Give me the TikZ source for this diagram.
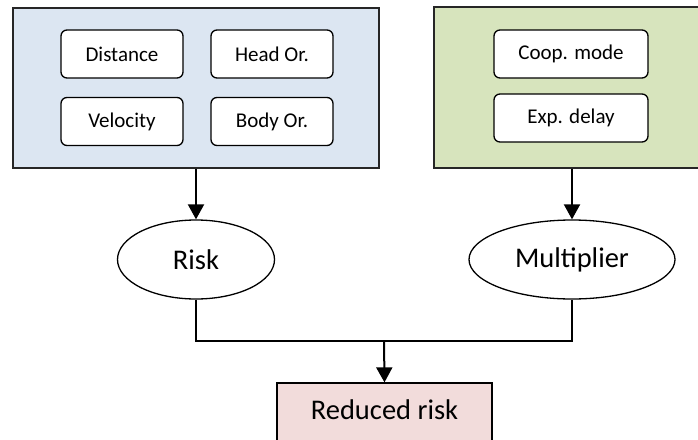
\documentclass[tikz,border=0pt]{standalone}
\usepackage{fontspec}
\setmainfont{Carlito}
\usetikzlibrary{shapes.geometric,arrows.meta}
\definecolor{bluefill}{RGB}{220,230,242}
\definecolor{greenfill}{RGB}{215,228,189}
\definecolor{redfill}{RGB}{242,220,219}
\tikzset{
  groupbox/.style={draw=black!85, line width=1.5pt, inner sep=0pt},
  itembox/.style={draw=black, fill=white, line width=1.3pt, rounded corners=6pt,
    inner sep=0pt, minimum width=122pt, minimum height=48pt,
    font=\fontsize{21}{25}\selectfont},
  ovalnode/.style={ellipse, draw=black, fill=white, line width=1.3pt, inner sep=0pt,
    minimum height=79pt, font=\fontsize{28.5}{32}\selectfont},
  resultbox/.style={draw=black, fill=redfill, line width=1.3pt, inner sep=0pt,
    minimum width=215pt, minimum height=77pt},
  flowarrow/.style={line width=2pt, -{Triangle[length=15pt,width=16pt]}},
  joinline/.style={line width=1.3pt}
}
\begin{document}
\begin{tikzpicture}[x=1pt,y=-1pt]
\path[use as bounding box, clip] (0,0) rectangle (698,439);
\node[groupbox, fill=bluefill, minimum width=366pt, minimum height=160pt] (blue) at (196,88) {};
\node[groupbox, fill=greenfill, minimum width=276pt, minimum height=161pt] (green) at (572,87.5) {};
\node[itembox] (dist) at (122,54) {Distance};
\node[itembox] (head) at (272,54) {Head Or.};
\node[itembox] (vel) at (122,121.5) {Velocity};
\node[itembox] (body) at (272,121.5) {Body Or.};
\node[itembox, minimum width=154pt] (coop) at (571,54) {Coop. mode};
\node[itembox, minimum width=154pt] (exp) at (571,118) {Exp. delay};
\node[ovalnode, minimum width=157pt] (risk) at (196,259.5) {Risk};
\node[ovalnode, minimum width=206pt] (mult) at (572,259.5) {Multiplier};
\node[resultbox] (red) at (384.5,421.5) {};
\node[font=\fontsize{28.5}{32}\selectfont, inner sep=0pt] (redlabel) at (384.5,410) {Reduced risk};
\coordinate (j) at (384,341);
\draw[flowarrow] (blue.south) -- (risk.north);
\draw[flowarrow] (green.south) -- (mult.north);
\draw[joinline] (risk.south) |- (j) -| (mult.south);
\draw[flowarrow] (j) -- (red.north);
\end{tikzpicture}
\end{document}
